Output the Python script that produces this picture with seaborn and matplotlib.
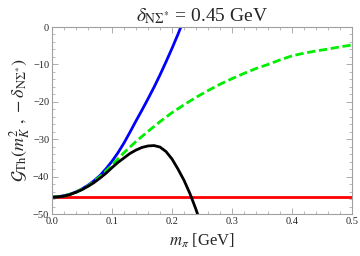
import numpy as np
import pandas as pd
import matplotlib
matplotlib.use("Agg")
import matplotlib.pyplot as plt
from matplotlib.ticker import MultipleLocator, FuncFormatter
import seaborn as sns

# Data
blue_x = [0.0, 0.01, 0.02, 0.03, 0.04, 0.05, 0.06, 0.07, 0.08, 0.09, 0.10, 0.11,
          0.12, 0.13, 0.14, 0.15, 0.16, 0.17, 0.18, 0.19, 0.20, 0.21, 0.216]
blue_y = [-45.5, -45.4, -45.1, -44.7, -44.1, -43.3, -42.3, -41.1, -39.7, -37.9, -35.9, -33.6,
          -31.0, -28.1, -25.1, -22.2, -19.2, -16.1, -12.8, -9.3, -5.7, -1.9, 0.5]

green_x = [0.0, 0.02, 0.04, 0.06, 0.08, 0.10, 0.12, 0.14, 0.16, 0.18, 0.20, 0.22, 0.24,
           0.26, 0.28, 0.30, 0.32, 0.34, 0.36, 0.38, 0.40, 0.42, 0.44, 0.46, 0.48, 0.50]
green_y = [-45.5, -45.2, -44.2, -42.5, -40.0, -36.9, -33.6, -30.6, -27.9, -25.3, -22.9, -20.8, -18.8,
           -17.0, -15.3, -13.8, -12.4, -11.1, -10.0, -8.8, -7.7, -7.0, -6.4, -5.9, -5.3, -4.8]

black_x = [0.0, 0.01, 0.02, 0.03, 0.04, 0.05, 0.06, 0.07, 0.08, 0.09, 0.10, 0.11, 0.12,
           0.13, 0.14, 0.15, 0.16, 0.17, 0.18, 0.19, 0.20, 0.21, 0.22, 0.23, 0.24, 0.245]
black_y = [-45.5, -45.4, -45.2, -44.8, -44.2, -43.5, -42.6, -41.6, -40.4, -39.1, -37.6, -36.2, -35.0,
           -33.8, -32.9, -32.2, -31.8, -31.7, -32.1, -33.3, -35.3, -38.0, -41.0, -44.6, -48.8, -51.2]

red_x = [0.0, 0.5]
red_y = [-45.4, -45.4]

title_text = r"$\delta_{\rm N\Sigma^{*}}$ = 0.45 GeV"
xlabel_text = r"$m_{\pi}$ [GeV]"
ylabel_text = r"$\mathcal{G}_{\rm Th}(m_K^2\ ,\, -\delta_{\rm N\Sigma^{*}})$"

sns.set_style("ticks")
plt.rcParams["font.family"] = ["Liberation Serif", "DejaVu Serif"]
plt.rcParams["mathtext.fontset"] = "stix"

fig = plt.figure(figsize=(3.6, 2.56), dpi=100)
ax = fig.add_axes([0.1444, 0.164, 0.8336, 0.7305])

lw = 2.0
sns.lineplot(x=red_x, y=red_y, ax=ax, color="#ff0000", lw=lw, sort=False)
sns.lineplot(x=blue_x, y=blue_y, ax=ax, color="#0000ff", lw=lw, sort=False)
sns.lineplot(x=green_x, y=green_y, ax=ax, color="#00ee00", lw=lw, sort=False,
             linestyle=(0, (3, 1.3)))
sns.lineplot(x=black_x, y=black_y, ax=ax, color="black", lw=lw, sort=False)

ax.set_xlim(0, 0.5)
ax.set_ylim(-50, 0)
ax.xaxis.set_major_locator(MultipleLocator(0.1))
ax.xaxis.set_minor_locator(MultipleLocator(0.02))
ax.yaxis.set_major_locator(MultipleLocator(10))
ax.yaxis.set_minor_locator(MultipleLocator(2))
ax.xaxis.set_major_formatter(FuncFormatter(lambda v, p: f"{v:.1f}"))
ax.yaxis.set_major_formatter(FuncFormatter(lambda v, p: f"{int(round(v))}".replace("-", "\u2212")))

for s in ax.spines.values():
    s.set_color("#a0a0a0")
    s.set_linewidth(0.8)
ax.tick_params(which="both", direction="in", top=True, right=True, color="#a0a0a0")
ax.tick_params(which="major", length=4, width=0.6, labelsize=7.5, pad=2)
ax.tick_params(which="minor", length=2, width=0.5)

ax.set_title(title_text, fontsize=14, pad=4)
ax.set_xlabel(xlabel_text, fontsize=12, labelpad=4)
ax.set_ylabel(ylabel_text, fontsize=13, labelpad=1)

fig.savefig("out.png", dpi=100)
